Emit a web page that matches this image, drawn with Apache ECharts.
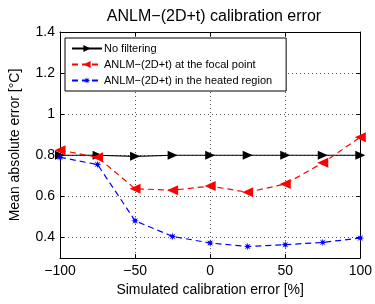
<!DOCTYPE html>
<html>
<head>
<meta charset="utf-8">
<script src="https://cdn.jsdelivr.net/npm/echarts@6/dist/echarts.min.js"></script>
<style>
  html, body { margin: 0; padding: 0; background: #fff; }
  #chart { width: 375px; height: 304px; }
</style>
</head>
<body>
<div id="chart"></div>
<script>
// calibration error levels [%]
var calib = [-100, -75, -50, -25, 0, 25, 50, 75, 100]
var noFilter = [0.80, 0.80, 0.795, 0.80, 0.80, 0.80, 0.80, 0.80, 0.80]
var focalPoint = [0.825, 0.79, 0.637, 0.63, 0.65, 0.62, 0.66, 0.763, 0.888]
var heatedRegion = [0.79, 0.755, 0.481, 0.405, 0.373, 0.356, 0.365, 0.376, 0.397]
var yTicks = [0.4, 0.6, 0.8, 1.0, 1.2, 1.4]

var font = 'Liberation Sans'
var star = 'path://M10 5L6.85 5.77L8.54 8.54L5.77 6.85L5 10L4.23 6.85L1.46 8.54L3.15 5.77L0 5L3.15 4.23L1.46 1.46L4.23 3.15L5 0L5.77 3.15L8.54 1.46L6.85 4.23Z'

function pairs(vals) {
  return calib.map(function (x, i) { return [x, vals[i]] })
}
function minus(v) {
  return String(v).replace('-', '\u2212')
}

var chart = echarts.init(document.getElementById('chart'))
chart.setOption({
  animation: false,
  textStyle: { fontFamily: font },
  title: {
    text: 'ANLM\u2212(2D+t) calibration error',
    left: 209,
    textAlign: 'center',
    top: 4,
    textStyle: { fontFamily: font, fontSize: 16, fontWeight: 'normal', color: '#000' }
  },
  grid: { left: 58, right: 14, top: 32, bottom: 46 },
  legend: {
    orient: 'vertical',
    left: 65,
    top: 38,
    itemWidth: 30,
    itemHeight: 9,
    itemGap: 5,
    padding: [5, 14, 5, 6],
    borderColor: '#000',
    borderWidth: 1,
    borderRadius: 0,
    backgroundColor: '#fff',
    textStyle: { fontFamily: font, fontSize: 11, color: '#000', padding: [0, 0, 0, -3] },
    data: ['No filtering', 'ANLM\u2212(2D+t) at the focal point', 'ANLM\u2212(2D+t) in the heated region']
  },
  xAxis: [{
    type: 'value',
    min: -100,
    max: 100,
    interval: 50,
    name: 'Simulated calibration error [%]',
    nameLocation: 'middle',
    nameGap: 24,
    nameTextStyle: { fontSize: 14, color: '#000' },
    axisLine: { onZero: false, lineStyle: { color: '#000' } },
    axisTick: { inside: true, length: 4, lineStyle: { color: '#000' } },
    axisLabel: { fontSize: 14, color: '#000', margin: 6, formatter: minus },
    splitLine: { show: true, lineStyle: { color: '#555', type: [1, 3] } }
  }, {
    type: 'value',
    position: 'top',
    min: -100,
    max: 100,
    interval: 50,
    axisLine: { show: true, onZero: false, lineStyle: { color: '#000' } },
    axisTick: { inside: true, length: 4, lineStyle: { color: '#000' } },
    axisLabel: { show: false },
    splitLine: { show: false }
  }],
  yAxis: [{
    type: 'value',
    min: 0.3,
    max: 1.4,
    name: 'Mean absolute error [\u00b0C]',
    nameLocation: 'middle',
    nameGap: 38,
    nameTextStyle: { fontSize: 14, color: '#000' },
    axisLine: { show: true, onZero: false, lineStyle: { color: '#000' } },
    axisTick: { inside: true, length: 4, customValues: yTicks, lineStyle: { color: '#000' } },
    axisLabel: { fontSize: 14, color: '#000', margin: 5, customValues: yTicks },
    splitLine: { show: true, lineStyle: { color: '#555', type: [1, 3] } }
  }, {
    type: 'value',
    position: 'right',
    min: 0.3,
    max: 1.4,
    axisLine: { show: true, onZero: false, lineStyle: { color: '#000' } },
    axisTick: { inside: true, length: 4, customValues: yTicks, lineStyle: { color: '#000' } },
    axisLabel: { show: false },
    splitLine: { show: false }
  }],
  series: [{
    name: 'No filtering',
    type: 'line',
    data: pairs(noFilter),
    symbol: 'triangle',
    symbolRotate: -90,
    symbolSize: [9, 10],
    itemStyle: { color: '#000' },
    lineStyle: { color: '#000', width: 1.2 },
    z: 2
  }, {
    name: 'ANLM\u2212(2D+t) at the focal point',
    type: 'line',
    data: pairs(focalPoint),
    symbol: 'triangle',
    symbolRotate: 90,
    symbolSize: [10, 11],
    itemStyle: { color: '#ff0000' },
    lineStyle: { color: '#ff0000', width: 1.2, type: [6, 4] },
    z: 3
  }, {
    name: 'ANLM\u2212(2D+t) in the heated region',
    type: 'line',
    data: pairs(heatedRegion),
    symbol: star,
    symbolSize: 8,
    itemStyle: { color: '#0000ff' },
    lineStyle: { color: '#0000ff', width: 1.2, type: [6, 4] },
    z: 4
  }]
})
</script>
</body>
</html>
